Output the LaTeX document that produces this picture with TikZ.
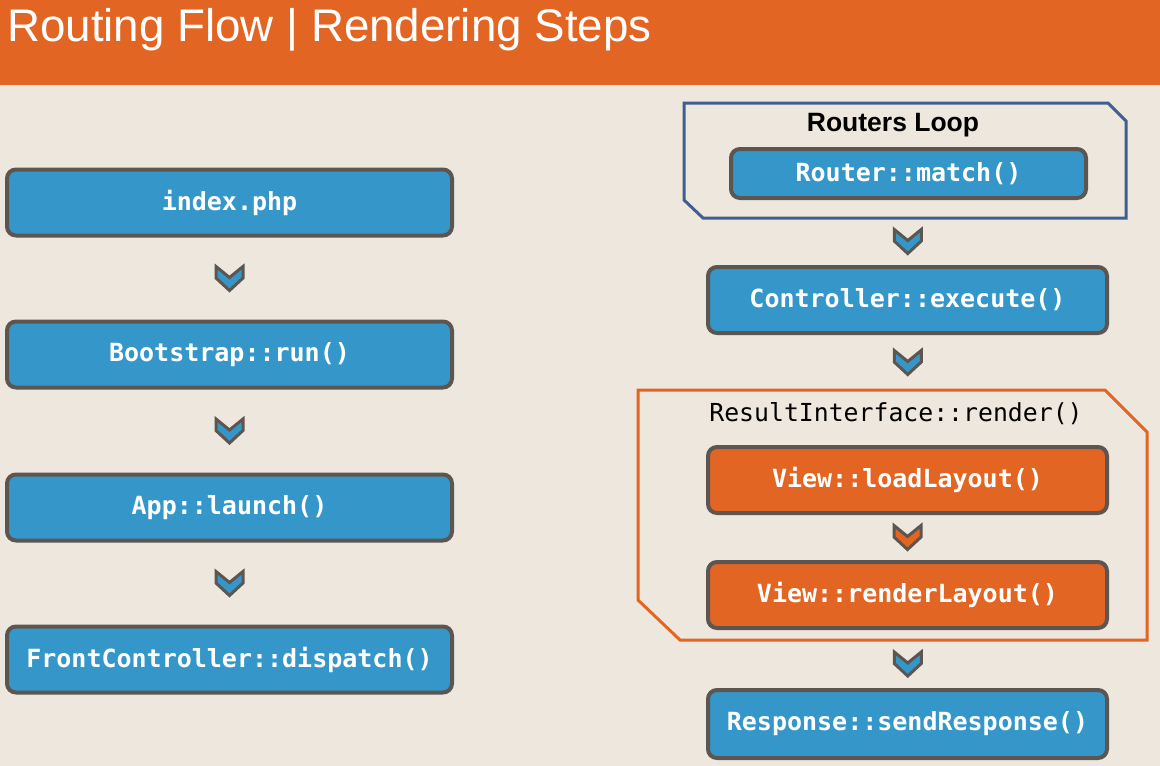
\documentclass[tikz,border=0pt]{standalone}
\usepackage{fontspec}
\setmainfont{Liberation Sans}
\newfontfamily\monofont{DejaVu Sans Mono}
\usetikzlibrary{calc}
\definecolor{bgc}{HTML}{EEE7DE}
\definecolor{orng}{HTML}{E36524}
\definecolor{bluef}{HTML}{3597C9}
\definecolor{edge}{HTML}{5D5550}
\definecolor{frameb}{HTML}{3E5F8F}
\tikzset{
  box/.style={draw=edge, line width=4pt, rounded corners=9pt, fill=bluef,
    text=white, font=\monofont\bfseries\fontsize{25}{28}\selectfont,
    minimum height=66pt, inner sep=0pt},
  obox/.style={box, fill=orng},
  chev/.pic={\path[draw=edge, line width=3pt, line join=miter, pic actions]
    (-13.5,-12) -- (0,-1) -- (13.5,-12) -- (13.5,-0.5) -- (0,12) -- (-13.5,-0.5) -- cycle;},
  frame/.style={line width=3pt, line join=miter}
}
\begin{document}
\begin{tikzpicture}[x=1pt,y=-1pt]
\fill[bgc] (0,0) rectangle (1160,766);
\useasboundingbox (0,0) rectangle (1160,766);
\fill[orng] (0,0) rectangle (1160,85);
\node[anchor=base west, inner sep=0pt, text=white, font=\fontsize{45.7}{50}\selectfont] (title) at (7,41) {Routing Flow | Rendering Steps};
% left column
\node[box, minimum width=445pt] (idx) at (229.5,202.5) {index.php};
\node[box, minimum width=445pt] (boot) at (229.5,354.5) {Bootstrap::run()};
\node[box, minimum width=445pt] (app) at (229.5,507.5) {App::launch()};
\node[box, minimum width=445pt] (fc) at (229.5,659.5) {FrontController::dispatch()};
\pic[fill=bluef] at ($(idx.south)!0.5!(boot.north)$) {chev};
\pic[fill=bluef] at ($(boot.south)!0.5!(app.north)$) {chev};
\pic[fill=bluef] at ($(app.south)!0.5!(fc.north)$) {chev};
% right column
\draw[frame, draw=frameb] (684,103) -- (1108,103) -- (1126,121) -- (1126,218) -- (703,218) -- (684,200) -- cycle;
\coordinate (rlb) at (908,218);
\node[font=\bfseries\fontsize{26.5}{30}\selectfont, inner sep=0pt] (rl) at (893,125) {Routers Loop};
\node[box, minimum width=355pt, minimum height=49pt] (rm) at (908.5,173.5) {Router::match()};
\node[box, minimum width=399pt] (ce) at (907.5,300) {Controller::execute()};
\draw[frame, draw=orng] (638,390) -- (1105,390) -- (1147,432) -- (1147,640) -- (680,640) -- (638,600) -- cycle;
\coordinate (rit) at (908,390);
\coordinate (rib) at (908,640);
\node[font=\monofont\fontsize{24.8}{28}\selectfont, inner sep=0pt] (ri) at (896,414) {ResultInterface::render()};
\node[obox, minimum width=399pt] (ll) at (907.5,480) {View::loadLayout()};
\node[obox, minimum width=399pt] (rnd) at (907.5,595) {View::renderLayout()};
\node[box, minimum width=399pt, minimum height=68pt] (resp) at (907.5,724) {Response::sendResponse()};
\pic[fill=bluef] at ($(rlb)!0.5!(ce.north)$) {chev};
\pic[fill=bluef] at ($(ce.south)!0.5!(rit)$) {chev};
\pic[fill=orng] at ($(ll.south)!0.5!(rnd.north)$) {chev};
\pic[fill=bluef] at ($(rib)!0.5!(resp.north)$) {chev};
\end{tikzpicture}
\end{document}
